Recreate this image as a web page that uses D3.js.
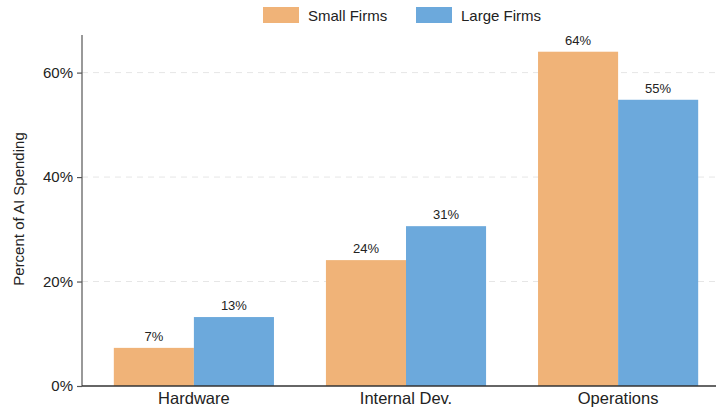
<!DOCTYPE html>
<html>
<head>
<meta charset="utf-8">
<script src="https://cdn.jsdelivr.net/npm/d3@7"></script>
<style>
  html, body { margin: 0; padding: 0; background: #fff; }
  svg { display: block; font-family: "Liberation Sans", Arial, sans-serif; }
</style>
</head>
<body>
<svg id="chart" width="716" height="411"></svg>
<script>
// AI spending share by category, small vs. large firms (percent)
const categories = ["Hardware", "Internal Dev.", "Operations"];
const seriesNames = ["Small Firms", "Large Firms"];
const smallFirms = [7.3, 24.1, 64.0];
const largeFirms = [13.2, 30.6, 54.8];
const yTicks = [0, 20, 40, 60];
const colors = ["#f0b378", "#6ca9dc"];

const svg = d3.select("#chart");
const W = 716, H = 411;
const m = { left: 82, right: 0, top: 35, bottom: 25 };
const y0 = H - m.bottom; // baseline

const y = d3.scaleLinear().domain([0, d3.max(smallFirms.concat(largeFirms)) * 1.05]).range([y0, m.top]);
const x = d3.scaleBand().domain(categories).range([m.left, 730]).paddingInner(0.245).paddingOuter(0.15);
const xs = d3.scaleBand().domain(seriesNames).range([0, x.bandwidth()]);

// dashed gridlines
svg.append("g").selectAll("line").data(yTicks.filter(d => d > 0)).join("line")
  .attr("x1", m.left).attr("x2", W)
  .attr("y1", d => y(d)).attr("y2", d => y(d))
  .attr("stroke", "#e6e6e6").attr("stroke-width", 1).attr("stroke-dasharray", "6,5");

const rows = categories.map((c, i) => ({ c, vals: [smallFirms[i], largeFirms[i]] }));

const groups = svg.append("g").selectAll("g").data(rows).join("g")
  .attr("transform", d => `translate(${x(d.c)},0)`);

groups.selectAll("rect").data(d => d.vals.map((v, k) => ({ v, k }))).join("rect")
  .attr("x", d => xs(seriesNames[d.k]))
  .attr("width", xs.bandwidth())
  .attr("y", d => y(d.v))
  .attr("height", d => y0 - y(d.v))
  .attr("fill", d => colors[d.k]);

groups.selectAll("text").data(d => d.vals.map((v, k) => ({ v, k }))).join("text")
  .attr("x", d => xs(seriesNames[d.k]) + xs.bandwidth() / 2)
  .attr("y", d => y(d.v) - 7)
  .attr("text-anchor", "middle")
  .attr("font-size", 13)
  .attr("fill", "#222")
  .text(d => Math.round(d.v) + "%");

// y axis
const yAxis = svg.append("g").attr("transform", `translate(${m.left},0)`)
  .call(d3.axisLeft(y).tickValues(yTicks).tickSize(5).tickPadding(4).tickFormat(d => d + "%"));
yAxis.select(".domain").attr("stroke", "#777").attr("stroke-width", 1.5)
  .attr("d", `M0,${m.top}V${y0}`);
yAxis.selectAll(".tick line").attr("stroke", "#555").attr("stroke-width", 1.2);
yAxis.selectAll(".tick text").attr("font-size", 15).attr("fill", "#222")
  .attr("font-family", "Liberation Sans, Arial, sans-serif");

// x axis
const xAxis = svg.append("g").attr("transform", `translate(0,${y0})`)
  .call(d3.axisBottom(x).tickSize(0).tickPadding(6));
xAxis.select(".domain").attr("stroke", "#333").attr("stroke-width", 1.5)
  .attr("d", `M${m.left},0H${W}`);
xAxis.selectAll(".tick text").attr("font-size", 16.5).attr("fill", "#222")
  .attr("font-family", "Liberation Sans, Arial, sans-serif");

// y axis title
svg.append("text")
  .attr("transform", `translate(24,209) rotate(-90)`)
  .attr("text-anchor", "middle")
  .attr("font-size", 15)
  .attr("fill", "#222")
  .text("Percent of AI Spending");

// legend
const legendX = [263, 416];
const legend = svg.append("g").selectAll("g").data(seriesNames).join("g")
  .attr("transform", (d, i) => `translate(${legendX[i]},7)`);
legend.append("rect").attr("width", 36).attr("height", 16).attr("fill", (d, i) => colors[i]);
legend.append("text").attr("x", 45).attr("y", 13.5).attr("font-size", 15).attr("fill", "#222").text(d => d);
</script>
</body>
</html>
